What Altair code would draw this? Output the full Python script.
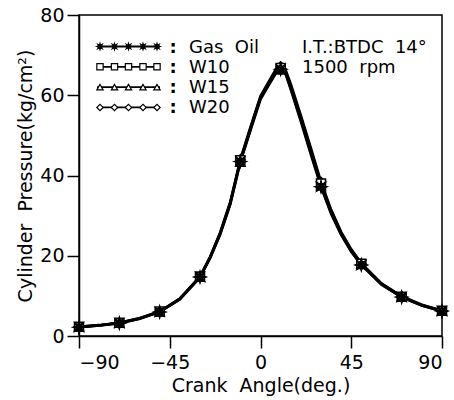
import math
import altair as alt
import pandas as pd

# ---------------- data ----------------
angles = [-90, -80, -70, -60, -50, -40, -30, -25, -20, -15, -10, -5, 0, 5, 8, 10, 12,
          15, 20, 25, 30, 35, 40, 45, 50, 60, 70, 80, 90]
gas_oil = [2.2, 2.6, 3.2, 4.3, 6.0, 9.2, 14.7, 19.5, 25.5, 33.0, 43.5, 51.5, 59.3, 63.5,
           66.0, 66.5, 66.0, 61.5, 53.5, 45.2, 37.2, 30.5, 25.2, 21.0, 17.7, 12.8, 9.7, 7.6, 6.2]
w10 = [2.3, 2.7, 3.3, 4.4, 6.1, 9.3, 14.8, 19.6, 25.6, 33.2, 43.8, 51.8, 59.5, 63.8,
       66.3, 66.8, 66.5, 62.3, 54.5, 46.3, 38.0, 31.2, 25.7, 21.4, 18.0, 13.0, 9.8, 7.7, 6.3]
w15 = [2.2, 2.6, 3.2, 4.3, 6.0, 9.1, 14.6, 19.4, 25.3, 32.8, 43.3, 51.2, 59.0, 63.3,
       65.8, 66.3, 66.0, 61.8, 53.9, 45.6, 37.4, 30.7, 25.4, 21.1, 17.8, 12.9, 9.7, 7.6, 6.2]
w20 = [2.3, 2.7, 3.3, 4.4, 6.1, 9.3, 14.8, 19.7, 25.8, 33.4, 44.0, 52.0, 59.8, 64.2,
       66.8, 67.2, 66.9, 62.8, 55.0, 46.8, 38.4, 31.5, 25.9, 21.6, 18.1, 13.1, 9.9, 7.8, 6.3]
marker_angles = [-90, -70, -50, -30, -10, 10, 30, 50, 70, 90]

series_names = ["Gas Oil", "W10", "W15", "W20"]
legend_labels = ["Gas\u00a0\u00a0Oil", "W10", "W15", "W20"]
x_ticks = [-90, -45, 0, 45, 90]
y_ticks = [0, 20, 40, 60, 80]
note_lines = ["I.T.:BTDC\u00a0\u00a014\u00b0", "1500\u00a0\u00a0rpm"]

# ---------------- layout / style ----------------
W, H = 363, 321
FONT = "DejaVu Sans"


def star_path(n=8, r_in=0.45):
    pts = []
    for k in range(2 * n):
        r = 1.0 if k % 2 == 0 else r_in
        a = math.pi * k / n - math.pi / 2
        pts.append(f"{r*math.cos(a):.3f},{r*math.sin(a):.3f}")
    return "M" + "L".join(pts) + "Z"


shapes = [star_path(), "square", "triangle-up", "diamond"]
fills = ["black", "white", "white", "white"]
draw_order = {"W20": 0, "W15": 1, "W10": 2, "Gas Oil": 3}

rows = []
for name, vals in zip(series_names, [gas_oil, w10, w15, w20]):
    for a, v in zip(angles, vals):
        rows.append({"series": name, "angle": a, "p": v, "ord": draw_order[name]})
df = pd.DataFrame(rows)
dfm = df[df["angle"].isin(marker_angles)].sort_values("ord")

# legend geometry (pixels inside the plot area)
row_y0, row_dy = 31.5, 20.3
leg_x1, leg_x2 = 18, 81
leg_marks_x = [21, 35.5, 49.5, 64, 78]
colon_x = 94
label_x = 110
note_x = 223

leg_line_rows, leg_pt_rows, leg_txt_rows = [], [], []
for i, (name, lab) in enumerate(zip(series_names, legend_labels)):
    yy = row_y0 + i * row_dy
    leg_line_rows.append({"series": name, "x1": leg_x1, "x2": leg_x2, "ly": yy})
    for mx in leg_marks_x:
        leg_pt_rows.append({"series": name, "lx": mx, "ly": yy})
    leg_txt_rows.append({"tx": colon_x, "ty": yy + 1, "label": ":", "al": "center"})
    leg_txt_rows.append({"tx": label_x, "ty": yy + 1, "label": lab, "al": "left"})
for i, t in enumerate(note_lines):
    leg_txt_rows.append({"tx": note_x, "ty": row_y0 + i * row_dy + 1, "label": t, "al": "left"})

shape_enc = alt.Shape("series:N", scale=alt.Scale(domain=series_names, range=shapes), legend=None)
fill_enc = alt.Fill("series:N", scale=alt.Scale(domain=series_names, range=fills), legend=None)

x_enc = alt.X(
    "angle:Q",
    scale=alt.Scale(domain=[-90, 90], nice=False, zero=False),
    axis=alt.Axis(values=x_ticks, title="Crank\u00a0\u00a0Angle(deg.)", labelPadding=5, titlePadding=4),
)
y_enc = alt.Y(
    "p:Q",
    scale=alt.Scale(domain=[0, 80], nice=False),
    axis=alt.Axis(values=y_ticks, title="Cylinder\u00a0\u00a0Pressure(kg/cm\u00b2)", labelPadding=3, titlePadding=4),
)

lines = alt.Chart(df).mark_line(color="black", strokeWidth=2.6).encode(
    x=x_enc, y=y_enc, detail="series:N"
)
points = alt.Chart(dfm).mark_point(filled=True, stroke="black", strokeWidth=1.6, size=80, opacity=1).encode(
    x="angle:Q", y="p:Q", shape=shape_enc, fill=fill_enc, order=alt.Order("ord:Q")
)
star_pts = alt.Chart(dfm[dfm["series"] == "Gas Oil"]).mark_point(
    filled=True, stroke="black", strokeWidth=1.5, size=130, opacity=1, shape=star_path(), color="black"
).encode(x="angle:Q", y="p:Q")

leg_lines = alt.Chart(pd.DataFrame(leg_line_rows)).mark_rule(color="black", strokeWidth=1.8).encode(
    x=alt.X("x1:Q", scale=None, axis=None),
    x2="x2:Q",
    y=alt.Y("ly:Q", scale=None, axis=None),
)
leg_pts = alt.Chart(pd.DataFrame(leg_pt_rows)).mark_point(filled=True, stroke="black", strokeWidth=1.2, size=40, opacity=1).encode(
    x=alt.X("lx:Q", scale=None, axis=None),
    y=alt.Y("ly:Q", scale=None, axis=None),
    shape=shape_enc,
    fill=fill_enc,
)
txt_df = pd.DataFrame(leg_txt_rows)
leg_txt_left = alt.Chart(txt_df[txt_df["al"] == "left"]).mark_text(
    align="left", baseline="middle", font=FONT, fontSize=18, color="black"
).encode(
    x=alt.X("tx:Q", scale=None, axis=None),
    y=alt.Y("ty:Q", scale=None, axis=None),
    text="label:N",
)
leg_txt_center = alt.Chart(txt_df[txt_df["al"] == "center"]).mark_text(
    align="center", baseline="middle", font=FONT, fontSize=18, fontWeight="bold", color="black"
).encode(
    x=alt.X("tx:Q", scale=None, axis=None),
    y=alt.Y("ty:Q", scale=None, axis=None),
    text="label:N",
)

chart = (
    alt.layer(lines, points, star_pts, leg_lines, leg_pts, leg_txt_left, leg_txt_center)
    .properties(
        width=W,
        height=H,
        autosize=alt.AutoSizeParams(type="none"),
        padding={"left": 79, "top": 15, "right": 12, "bottom": 64},
        background="white",
    )
    .configure_view(stroke="black", strokeWidth=1.5)
    .configure_axis(
        grid=False,
        domainColor="black",
        domainWidth=1.5,
        tickColor="black",
        tickWidth=1.5,
        tickSize=12,
        labelFont=FONT,
        labelFontSize=19,
        labelColor="black",
        titleFont=FONT,
        titleFontSize=19,
        titleFontWeight="normal",
        titleColor="black",
        labelOverlap=False,
    )
)

chart.save("out.html", embed_options={"renderer": "svg", "actions": False})
